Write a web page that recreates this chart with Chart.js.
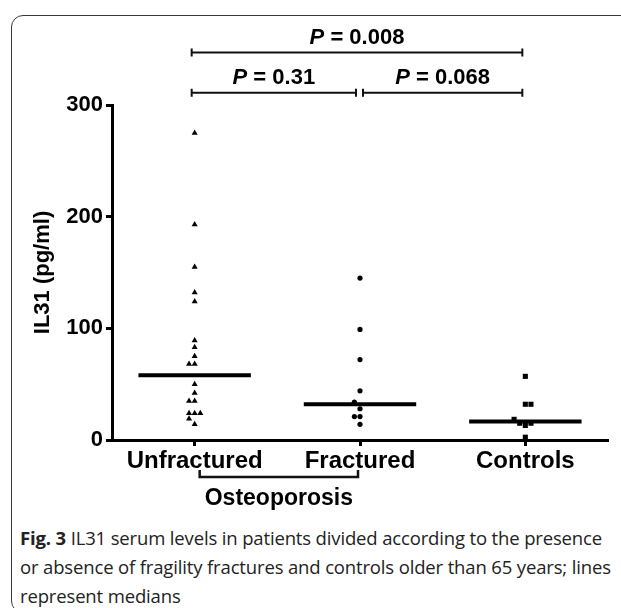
<!DOCTYPE html>
<html>
<head>
<meta charset="utf-8">
<script src="https://cdn.jsdelivr.net/npm/chart.js@4.4.0/dist/chart.umd.min.js"></script>
<style>
body { margin: 0; background: #fff; width: 621px; height: 608px; overflow: hidden; position: relative; }
#frame { position: absolute; left: 11px; top: 15px; width: 640px; height: 598px; border: 1.5px solid #3a3a3a; border-radius: 12px; box-sizing: border-box; }
#wrap { position: absolute; left: 0; top: 0; width: 621px; height: 520px; }
#caption { position: absolute; left: 20px; top: 523px; width: 600px; white-space: nowrap; font-family: "Open Sans", sans-serif; font-size: 18.5px; letter-spacing: -0.15px; line-height: 29px; color: #222; }
</style>
</head>
<body>
<div id="frame"></div>
<div id="wrap"><canvas id="chart"></canvas></div>
<div id="caption"><b>Fig. 3</b> IL31 serum levels in patients divided according to the presence<br>or absence of fragility fractures and controls older than 65 years; lines<br>represent medians</div>
<script>
// categories
const groups = ["Unfractured", "Fractured", "Controls"];
const yTicks = [0, 100, 200, 300];

// IL31 values (pg/ml), with sideways jitter steps
const unfractured = [275, 193, 155, 132, 124, 89, 83, 75, 68, 68, 50, 42, 35, 35, 24, 24, 24, 19, 14];
const unfracturedJitter = [0, 0, 0, 0, 0, 0, 0, 0, -1, 0, 0, 0, -1, 0, -1, 0, 1, -1, 0];
const fractured = [145, 99, 72, 44, 34, 28, 21, 21, 14];
const fracturedJitter = [0, 0, 0, 0, -1, 0, -1, 0, 0];
const controls = [57, 32, 32, 18.5, 15, 15, 13, 2.5];
const controlsJitter = [0, 0, 1, -2, -1, 1, 0, 0];
const medians = [58, 32, 16.5];

// comparisons: [from group, to group, level, label]
const comparisons = [
  [1, 3, 347, "0.008"],
  [1, 2, 311, "0.31"],
  [2, 3, 311, "0.068"]
];

const jitterStep = 0.034;
const medianHalf = 0.34;

function points(values, jitter, group) {
  return values.map(function (v, i) {
    return { x: group + jitter[i] * jitterStep, y: v };
  });
}

function medianLine(i) {
  return {
    type: "line",
    data: [{ x: i + 1 - medianHalf, y: medians[i] }, { x: i + 1 + medianHalf, y: medians[i] }],
    borderColor: "#000",
    borderWidth: 4,
    pointRadius: 0,
    showLine: true
  };
}

const bracketPlugin = {
  id: "brackets",
  afterDraw: function (chart) {
    const ctx = chart.ctx;
    const xs = chart.scales.x;
    const ys = chart.scales.y;
    ctx.save();
    ctx.strokeStyle = "#111";
    ctx.fillStyle = "#000";
    ctx.lineWidth = 2;
    comparisons.forEach(function (c) {
      let x1 = xs.getPixelForValue(c[0]) - 3;
      let x2 = xs.getPixelForValue(c[1]) - 3;
      if (c[0] == 2) x1 += 6;
      if (c[1] == 2) x2 -= 1;
      const y = ys.getPixelForValue(c[2]);
      ctx.beginPath();
      ctx.moveTo(x1, y); ctx.lineTo(x2, y);
      ctx.moveTo(x1, y - 4); ctx.lineTo(x1, y + 4);
      ctx.moveTo(x2, y - 4); ctx.lineTo(x2, y + 4);
      ctx.stroke();
      // P = value
      ctx.textBaseline = "alphabetic";
      ctx.font = "italic bold 22px 'Liberation Sans'";
      const pw = ctx.measureText("P").width;
      ctx.font = "bold 22px 'Liberation Sans'";
      const rest = " = " + c[3];
      const rw = ctx.measureText(rest).width;
      const start = (x1 + x2) / 2 - (pw + rw) / 2;
      ctx.font = "italic bold 22px 'Liberation Sans'";
      ctx.fillText("P", start, y - 9);
      ctx.font = "bold 22px 'Liberation Sans'";
      ctx.fillText(rest, start + pw, y - 9);
    });
    // Osteoporosis group bracket under the first two categories
    const a = xs.getPixelForValue(1) + 5;
    const b = xs.getPixelForValue(2) - 2;
    const by = 477;
    ctx.lineWidth = 2.5;
    ctx.beginPath();
    ctx.moveTo(a, by - 7); ctx.lineTo(a, by); ctx.lineTo(b, by); ctx.lineTo(b, by - 7);
    ctx.stroke();
    ctx.font = "bold 23px 'Liberation Sans'";
    ctx.textAlign = "center";
    ctx.fillText("Osteoporosis", (a + b) / 2, 505);
    ctx.restore();
  }
};

new Chart(document.getElementById("chart"), {
  type: "scatter",
  data: {
    datasets: [
      { data: points(unfractured, unfracturedJitter, 1), pointStyle: "triangle", pointRadius: 3.5, backgroundColor: "#000", borderColor: "#000", borderWidth: 0 },
      { data: points(fractured, fracturedJitter, 2), pointStyle: "circle", pointRadius: 2.6, backgroundColor: "#000", borderColor: "#000", borderWidth: 0 },
      { data: points(controls, controlsJitter, 3), pointStyle: "rect", pointRadius: 3.6, backgroundColor: "#000", borderColor: "#000", borderWidth: 0 },
      medianLine(0),
      medianLine(1),
      medianLine(2)
    ]
  },
  options: {
    responsive: true,
    maintainAspectRatio: false,
    animation: false,
    layout: { padding: { left: 0, right: 13, top: 105, bottom: 0 } },
    plugins: { legend: { display: false }, tooltip: { enabled: false } },
    scales: {
      x: {
        type: "linear",
        min: 0.5,
        max: 3.5,
        afterBuildTicks: function (scale) {
          scale.ticks = groups.map(function (g, i) { return { value: i + 1 }; });
        },
        afterFit: function (scale) { scale.height = 80; },
        border: { color: "#000", width: 3 },
        grid: { drawOnChartArea: false, tickLength: 6, tickWidth: 3, tickColor: "#000" },
        ticks: {
          color: "#000",
          padding: 1,
          font: { family: "Liberation Sans", weight: "bold", size: 24 },
          callback: function (v) { return groups[v - 1]; }
        }
      },
      y: {
        min: 0,
        max: 300,
        afterBuildTicks: function (scale) {
          scale.ticks = yTicks.map(function (v) { return { value: v }; });
        },
        afterFit: function (scale) { scale.width = 112; },
        border: { color: "#000", width: 3 },
        grid: { drawOnChartArea: false, tickLength: 6, tickWidth: 3, tickColor: "#000" },
        ticks: {
          color: "#000",
          padding: 3,
          font: { family: "Liberation Sans", weight: "bold", size: 22 }
        },
        title: {
          display: true,
          text: "IL31 (pg/ml)",
          color: "#000",
          padding: { top: 30, bottom: 0 },
          font: { family: "Liberation Sans", weight: "bold", size: 22 }
        }
      }
    }
  },
  plugins: [bracketPlugin]
});
</script>
</body>
</html>
